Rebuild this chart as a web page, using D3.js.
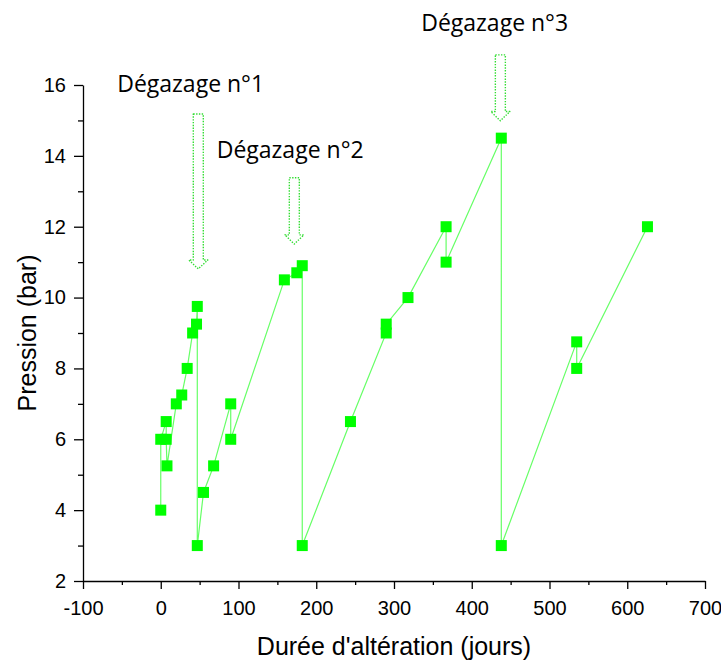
<!DOCTYPE html>
<html><head><meta charset="utf-8">
<script src="https://cdn.jsdelivr.net/npm/d3@7"></script>
<style>
html,body{margin:0;padding:0;background:#fff;}
svg{display:block;}
</style></head>
<body>
<svg id="c" width="721" height="660"></svg>
<script>
// Durée d'altération (jours)
const days = [0, 0, 7, 7, 8, 20, 27, 34, 41, 46, 47, 47, 55, 68, 90, 90, 159, 175, 182, 182, 244, 290, 290, 318, 367, 367, 438, 438, 535, 535, 626];
// Pression (bar)
const pressure = [4, 6, 6.5, 6, 5.25, 7, 7.25, 8, 9, 9.25, 9.75, 3, 4.5, 5.25, 7, 6, 10.5, 10.7, 10.9, 3, 6.5, 9, 9.25, 10, 12, 11, 14.5, 3, 8.75, 8, 12];

const xTicks = [-100, 0, 100, 200, 300, 400, 500, 600, 700];
const yTicks = [2, 4, 6, 8, 10, 12, 14, 16];

// annotations (data units)
const labelTexts = ["Dégazage n°1", "Dégazage n°2", "Dégazage n°3"];
const labelX = [-56, 72, 335];
const labelY = [15.8, 13.94, 17.52];
const arrowX = [48.3, 171.8, 436.8];
const arrowTop = [15.18, 13.38, 16.85];
const arrowHead = [11.06, 11.77, 15.25];
const arrowTip = [10.81, 11.51, 14.99];

const svg = d3.select("#c");
const L = 83, R = 705, T = 85, B = 581;
const x = d3.scaleLinear().domain([-100, 700]).range([L, R]);
const y = d3.scaleLinear().domain([2, 16]).range([B, T]);

const tickFont = "'Liberation Sans', Arial, sans-serif";
const fmt = d => String(d);

// X axis
svg.append("g").attr("transform", `translate(0,${B})`)
  .call(d3.axisBottom(x).tickValues(xTicks).tickFormat(fmt).tickSizeInner(8).tickSizeOuter(0).tickPadding(12));
svg.append("g").attr("transform", `translate(0,${B})`)
  .call(d3.axisBottom(x).tickValues(d3.range(-50, 700, 100)).tickFormat("").tickSizeInner(4).tickSizeOuter(0))
  .select(".domain").remove();

// Y axis
svg.append("g").attr("transform", `translate(${L},0)`)
  .call(d3.axisLeft(y).tickValues(yTicks).tickFormat(fmt).tickSizeInner(9).tickSizeOuter(0).tickPadding(8));
svg.append("g").attr("transform", `translate(${L},0)`)
  .call(d3.axisLeft(y).tickValues(d3.range(3, 16, 2)).tickFormat("").tickSizeInner(5).tickSizeOuter(0))
  .select(".domain").remove();

svg.selectAll(".tick line").attr("stroke", "#000").attr("stroke-width", 1.3);
svg.selectAll(".domain").attr("stroke", "#000").attr("stroke-width", 1.3);
svg.selectAll(".tick text").attr("font-family", tickFont).attr("font-size", 20).attr("fill", "#000");

// Axis titles
svg.append("text").attr("x", (L + R) / 2).attr("y", 655).attr("text-anchor", "middle")
  .attr("font-family", tickFont).attr("font-size", 25).text("Durée d'altération (jours)");
svg.append("text").attr("transform", `translate(36,${(T + B) / 2}) rotate(-90)`).attr("text-anchor", "middle")
  .attr("font-family", tickFont).attr("font-size", 25).text("Pression (bar)");

// Data line
const pts = days.map((d, i) => [d, pressure[i]]);
svg.append("path").datum(pts)
  .attr("fill", "none").attr("stroke", "#66ff66").attr("stroke-width", 1.2)
  .attr("d", d3.line().x(d => x(d[0])).y(d => y(d[1])));

const ms = 11;
svg.selectAll("rect.pt").data(pts).enter().append("rect").attr("class", "pt")
  .attr("x", d => x(d[0]) - ms / 2).attr("y", d => y(d[1]) - ms / 2)
  .attr("width", ms).attr("height", ms).attr("fill", "#00ff00");

// Arrows
const sw = 5, hw = 9.5;
arrowX.forEach((ax, i) => {
  const cx = x(ax), t = y(arrowTop[i]), h = y(arrowHead[i]), tip = y(arrowTip[i]);
  const p = `M${cx - sw},${t} L${cx + sw},${t} L${cx + sw},${h} L${cx + hw},${h} L${cx},${tip} L${cx - hw},${h} L${cx - sw},${h} Z`;
  svg.append("path").attr("d", p).attr("fill", "none").attr("stroke", "#33dd33")
    .attr("stroke-width", 1.4).attr("stroke-dasharray", "1.4,1.4").attr("stroke-linejoin", "round");
});

// Labels
labelTexts.forEach((t, i) => {
  svg.append("text").attr("x", x(labelX[i])).attr("y", y(labelY[i]))
    .attr("font-family", "'Open Sans', 'Noto Sans', sans-serif").attr("font-size", 23)
    .attr("fill", "#000").text(t);
});
</script>
</body></html>
